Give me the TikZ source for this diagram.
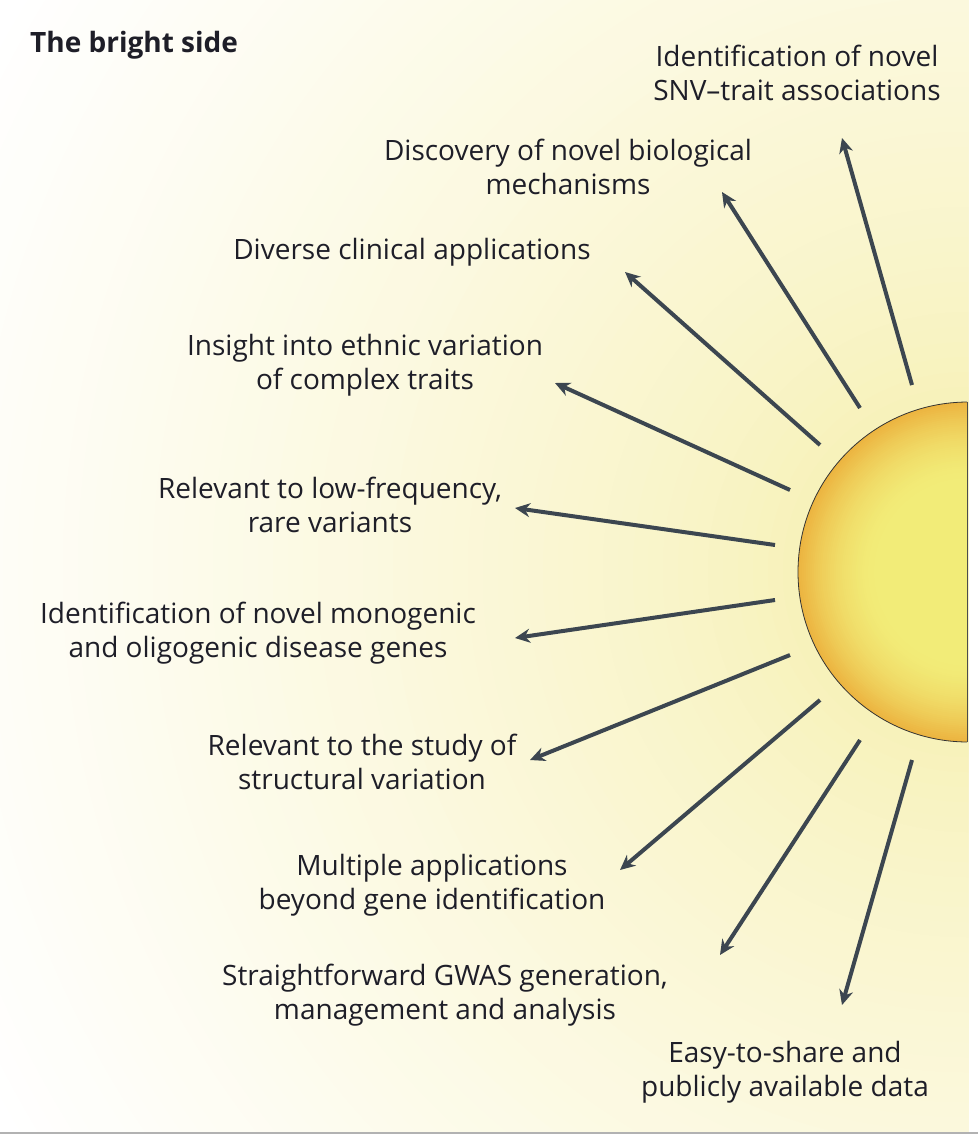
\documentclass[tikz,border=0pt]{standalone}
\usepackage{fontspec}
\setmainfont{Open Sans}
\usetikzlibrary{arrows.meta}
\definecolor{arr}{HTML}{3C4650}
\definecolor{txt}{HTML}{1E1E28}
\definecolor{sunc}{HTML}{F2EC78}
\definecolor{sune}{HTML}{ECB440}
\definecolor{g0}{HTML}{F7F1B8}
\begin{document}
\begin{tikzpicture}[x=1pt,y=-1pt,
  lbl/.style={font=\fontsize{28}{34}\selectfont, text=txt, align=center, inner sep=0pt},
  ray/.style={draw=arr, line width=4pt, -{Stealth[length=15pt,width=14pt]}}]
\useasboundingbox (0,0) rectangle (978,1136);
\begin{scope}
\clip (0,0) rectangle (968,1132);
\foreach \r in {1160,1145,...,170} {
  \pgfmathsetmacro{\p}{max(0,min(100,100*(1-(max(\r-170,0.5)/950)^0.75)))}
  \fill[g0!\p!white] (968,572) circle (\r);
}
\end{scope}
\draw[gray!60, line width=1.2pt] (0,1133) -- (978,1133);
\begin{scope}
\clip (0,0) rectangle (967,1132);
\foreach \r in {170,168,...,2} {
  \pgfmathsetmacro{\p}{max(0,min(100,100*(max(\r-90,0.5)/80)^1.8))}
  \fill[sune!\p!sunc] (968,572) circle (\r);
}
\draw[black!80, line width=0.8pt] (968,572) circle (170);
\end{scope}
\draw[black!70, line width=0.8pt] (967,402) -- (967,742);
\node[font=\bfseries\fontsize{28}{32}\selectfont, text=txt, anchor=west, inner sep=0pt] (title) at (30,45) {The bright side};
\node[lbl] (l1) at (797,73) {Identification of novel\\SNV–trait associations};
\node[lbl] (l2) at (568,167) {Discovery of novel biological\\mechanisms};
\node[lbl] (l3) at (412,252) {Diverse clinical applications};
\node[lbl] (l4) at (365,365) {Insight into ethnic variation\\of complex traits};
\node[lbl] (l5) at (330,505) {Relevant to low-frequency,\\rare variants};
\node[lbl] (l6) at (258,633) {Identification of novel monogenic\\and oligogenic disease genes};
\node[lbl] (l7) at (362,762) {Relevant to the study of\\structural variation};
\node[lbl] (l8) at (432,885) {Multiple applications\\beyond gene identification};
\node[lbl] (l9) at (445,995) {Straightforward GWAS generation,\\management and analysis};
\node[lbl] (l10) at (785,1072) {Easy-to-share and\\publicly available data};
\coordinate (s1) at (912,385); \coordinate (t1) at (842,138);
\coordinate (s2) at (860,408); \coordinate (t2) at (722,192);
\coordinate (s3) at (820,445); \coordinate (t3) at (625,272);
\coordinate (s4) at (790,490); \coordinate (t4) at (555,383);
\coordinate (s5) at (775,545); \coordinate (t5) at (515,508);
\coordinate (s6) at (775,600); \coordinate (t6) at (515,638);
\coordinate (s7) at (790,655); \coordinate (t7) at (530,760);
\coordinate (s8) at (820,700); \coordinate (t8) at (620,870);
\coordinate (s9) at (860,740); \coordinate (t9) at (720,955);
\coordinate (s10) at (912,760); \coordinate (t10) at (842,1005);
\foreach \i in {1,...,10} {\draw[ray] (s\i) -- (t\i);}
\end{tikzpicture}
\end{document}
